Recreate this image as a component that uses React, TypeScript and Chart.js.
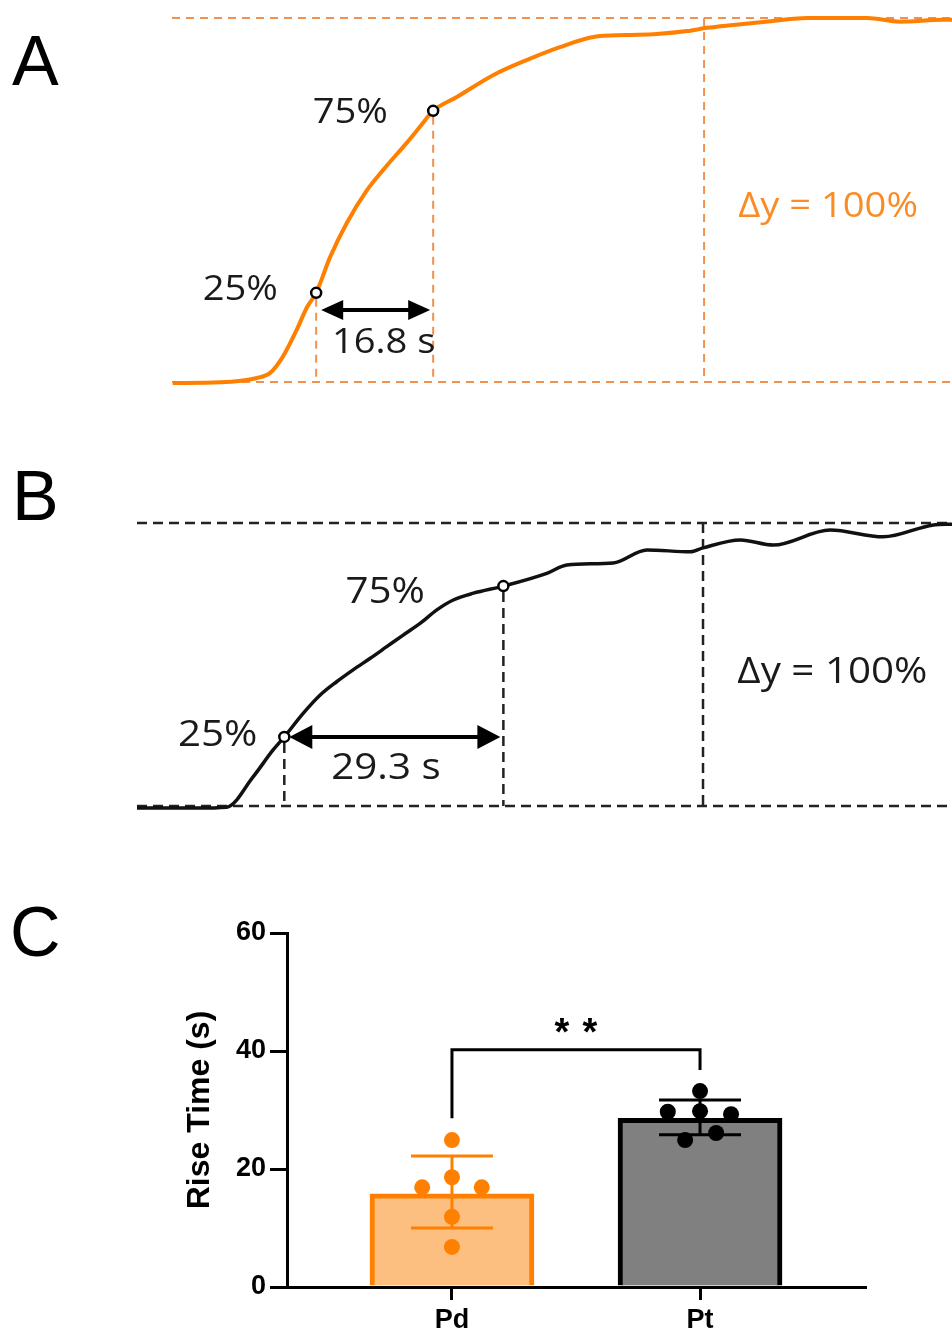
import React, { useEffect, useRef } from 'react';
import { Chart, registerables } from 'chart.js';
Chart.register(...registerables);

// ---------- Panel A (Pd trace): time (s) vs normalised rise (%) ----------
const traceATime = [0.1, 6.9, 12.2, 14.1, 15.9, 17.9, 19.4, 20.7, 22.7, 25.1, 28.0, 30.3, 33.7, 35.6, 37.5, 40.9, 46.1, 51.0, 55.7, 60.5, 65.3, 69.6, 74.0, 76.8, 80.6, 86.3, 91.2, 99.8, 104.5, 110.7, 112];
const traceAValue = [-0.3, -0.1, 1.1, 2.5, 6.9, 14.3, 20.6, 24.5, 34.3, 43.7, 52.7, 58.2, 65.7, 70.1, 74.5, 78.3, 84.3, 88.5, 92.0, 94.8, 95.3, 95.6, 96.4, 97.3, 98.1, 99.2, 100, 100, 99.0, 99.5, 99.5];
const markerATime = [20.7, 37.5];
const markerAValue = [24.5, 74.5];
const plateauATime = 76.4;
const riseALabel = '16.8 s';

// ---------- Panel B (Pt trace) ----------
const traceBTime = [0, 8.0, 12.0, 15.5, 18.2, 19.7, 22.25, 24.5, 26.7, 28.9, 31.2, 33.4, 35.6, 37.9, 40.1, 42.3, 45.0, 49.0, 54.9, 57.5, 63.7, 68.2, 74.0, 75.7, 80.7, 85.1, 92.7, 99.8, 106.5, 109];
const traceBValue = [-0.7, -0.7, -0.4, 10.2, 19.8, 24.4, 32.8, 39.2, 43.9, 48.1, 52.2, 56.3, 60.4, 64.6, 69.3, 72.8, 75.2, 77.7, 82.3, 85.2, 85.9, 90.5, 89.8, 91.2, 94.0, 92.2, 97.5, 95.1, 99.3, 99.6];
const markerBTime = [19.7, 49.0];
const markerBValue = [24.4, 77.7];
const plateauBTime = 75.7;
const riseBLabel = '29.3 s';

const markerLabels = ['25%', '75%'];
const deltaLabel = 'Δy = 100%';

// ---------- Panel C (bar chart) ----------
const groups = ['Pd', 'Pt'];
const groupMeans = [15.8, 28.6];
const sdUpper = [22.2, 31.7];
const sdLower = [10.0, 25.8];
const pdValues = [24.9, 18.6, 16.9, 16.9, 11.9, 6.8];
const pdJitter = [0, 0, -0.12, 0.12, 0, 0];
const ptValues = [33.2, 29.7, 29.8, 29.3, 24.9, 26.1];
const ptJitter = [0, -0.13, 0, 0.125, -0.06, 0.065];
const yTicks = [0, 20, 40, 60];
const yTitle = 'Rise Time (s)';
const sigLabel = '*';
const bracketY = { left: 28.6, top: 40.2, right: 36.8, stars: 44.8 };

const TXT_FONT = '"Open Sans", "Noto Sans", sans-serif';
const AX_FONT = '"Liberation Sans", Arial, sans-serif';
const TEXT_STRETCH = 1.09;

type TracePanel = {
  letter: string;
  letterBaseline: number;
  time: number[];
  value: number[];
  color: string;
  lineWidth: number;
  guideColor: string;
  guideWidth: number;
  dash: number[];
  xMax: number;
  padding: { left: number; right: number; top: number; bottom: number };
  markerTime: number[];
  markerValue: number[];
  plateauTime: number;
  riseLabel: string;
  arrowY: number;
  arrowHead: [number, number];
  labelPos: { x: number; y: number }[];
  risePos: { x: number; y: number };
  deltaPos: { x: number; y: number };
  deltaColor: string;
  textColor: string;
  fontSize: number;
};

const panelA: TracePanel = {
  letter: 'A',
  letterBaseline: 85,
  time: traceATime,
  value: traceAValue,
  color: '#FF8000',
  lineWidth: 4,
  guideColor: '#F2914F',
  guideWidth: 2,
  dash: [8, 6],
  xMax: 112,
  padding: { left: 172, right: 0, top: 18, bottom: 38 },
  markerTime: markerATime,
  markerValue: markerAValue,
  plateauTime: plateauATime,
  riseLabel: riseALabel,
  arrowY: 19.8,
  arrowHead: [22, 10],
  labelPos: [{ x: 15.2, y: 26.1 }, { x: 31.0, y: 74.5 }],
  risePos: { x: 30.4, y: 11.5 },
  deltaPos: { x: 94.2, y: 48.9 },
  deltaColor: '#FA8C28',
  textColor: '#1a1a1a',
  fontSize: 35,
};

const panelB: TracePanel = {
  letter: 'B',
  letterBaseline: 100,
  time: traceBTime,
  value: traceBValue,
  color: '#111111',
  lineWidth: 3.5,
  guideColor: '#222222',
  guideWidth: 2.5,
  dash: [10, 6],
  xMax: 109,
  padding: { left: 137, right: 0, top: 103, bottom: 44 },
  markerTime: markerBTime,
  markerValue: markerBValue,
  plateauTime: plateauBTime,
  riseLabel: riseBLabel,
  arrowY: 24.4,
  arrowHead: [23, 12],
  labelPos: [{ x: 16.1, y: 25.8 }, { x: 38.5, y: 76.3 }],
  risePos: { x: 33.3, y: 14.1 },
  deltaPos: { x: 93.0, y: 48.1 },
  deltaColor: '#1a1a1a',
  textColor: '#1a1a1a',
  fontSize: 37,
};

function stretchedText(ctx: CanvasRenderingContext2D, text: string, x: number, y: number) {
  ctx.save();
  ctx.translate(x, y);
  ctx.scale(TEXT_STRETCH, 1);
  ctx.fillText(text, 0, 0);
  ctx.restore();
}

function tracePlugin(p: TracePanel) {
  const line = (ctx: CanvasRenderingContext2D, x1: number, y1: number, x2: number, y2: number) => {
    ctx.beginPath();
    ctx.moveTo(x1, y1);
    ctx.lineTo(x2, y2);
    ctx.stroke();
  };
  return {
    id: 'traceAnnot' + p.letter,
    beforeDatasetsDraw(chart: any) {
      const { ctx, chartArea: ca, scales } = chart;
      const x = scales.x, y = scales.y;
      ctx.save();
      ctx.strokeStyle = p.guideColor;
      ctx.lineWidth = p.guideWidth;
      ctx.setLineDash(p.dash);
      const y0 = y.getPixelForValue(0);
      const y100 = y.getPixelForValue(100);
      line(ctx, ca.left, y100, ca.right, y100);
      line(ctx, ca.left, y0, ca.right, y0);
      p.markerTime.forEach((t, i) => {
        const px = x.getPixelForValue(t);
        line(ctx, px, y.getPixelForValue(p.markerValue[i]) + 6, px, y0);
      });
      const pp = x.getPixelForValue(p.plateauTime);
      line(ctx, pp, y100, pp, y0);
      ctx.restore();
    },
    afterDatasetsDraw(chart: any) {
      const { ctx, scales } = chart;
      const x = scales.x, y = scales.y;
      ctx.save();
      ctx.setLineDash([]);
      // arrow
      const ay = y.getPixelForValue(p.arrowY);
      const x1 = x.getPixelForValue(p.markerTime[0]) + 5;
      const x2 = x.getPixelForValue(p.markerTime[1]) - 3;
      const [L, H] = p.arrowHead;
      ctx.strokeStyle = '#000';
      ctx.fillStyle = '#000';
      ctx.lineWidth = 4;
      line(ctx, x1 + L - 4, ay, x2 - L + 4, ay);
      ctx.beginPath();
      ctx.moveTo(x1, ay);
      ctx.lineTo(x1 + L, ay - H);
      ctx.lineTo(x1 + L, ay + H);
      ctx.closePath();
      ctx.fill();
      ctx.beginPath();
      ctx.moveTo(x2, ay);
      ctx.lineTo(x2 - L, ay - H);
      ctx.lineTo(x2 - L, ay + H);
      ctx.closePath();
      ctx.fill();
      // markers
      p.markerTime.forEach((t, i) => {
        ctx.beginPath();
        ctx.arc(x.getPixelForValue(t), y.getPixelForValue(p.markerValue[i]), 5, 0, Math.PI * 2);
        ctx.fillStyle = '#fff';
        ctx.fill();
        ctx.lineWidth = 2.5;
        ctx.strokeStyle = '#000';
        ctx.stroke();
      });
      // labels
      const fs = p.fontSize;
      ctx.font = `${fs}px ${TXT_FONT}`;
      ctx.textBaseline = 'alphabetic';
      ctx.fillStyle = p.textColor;
      ctx.textAlign = 'right';
      markerLabels.forEach((lab, i) => {
        stretchedText(ctx, lab, x.getPixelForValue(p.labelPos[i].x), y.getPixelForValue(p.labelPos[i].y) + fs * 0.36);
      });
      ctx.textAlign = 'center';
      stretchedText(ctx, p.riseLabel, x.getPixelForValue(p.risePos.x), y.getPixelForValue(p.risePos.y) + fs * 0.36);
      ctx.fillStyle = p.deltaColor;
      stretchedText(ctx, deltaLabel, x.getPixelForValue(p.deltaPos.x), y.getPixelForValue(p.deltaPos.y) + fs * 0.36);
      // panel letter
      ctx.fillStyle = '#000';
      ctx.textAlign = 'left';
      ctx.font = `70px ${AX_FONT}`;
      ctx.fillText(p.letter, 12, p.letterBaseline);
      ctx.restore();
    },
  };
}

function traceConfig(p: TracePanel): any {
  return {
    type: 'line',
    data: {
      datasets: [
        {
          data: p.time.map((t, i) => ({ x: t, y: p.value[i] })),
          borderColor: p.color,
          borderWidth: p.lineWidth,
          pointRadius: 0,
          cubicInterpolationMode: 'monotone',
          fill: false,
          clip: false,
        },
      ],
    },
    options: {
      animation: false,
      responsive: false,
      events: [],
      layout: { padding: p.padding },
      plugins: { legend: { display: false }, tooltip: { enabled: false } },
      scales: {
        x: { type: 'linear', display: false, min: 0, max: p.xMax },
        y: { type: 'linear', display: false, min: 0, max: 100 },
      },
    },
    plugins: [tracePlugin(p)],
  };
}

const groupFill = ['#FDBF7F', '#808080'];
const groupStroke = ['#FF8000', '#000000'];

const barPlugin = {
  id: 'barAnnot',
  afterDatasetDraw(chart: any, args: any) {
    if (args.index !== 0) return;
    const { ctx, scales } = chart;
    const x = scales.x, y = scales.y;
    ctx.save();
    ctx.lineWidth = 3;
    groups.forEach((_, i) => {
      const cx = x.getPixelForValue(i + 1);
      const yu = y.getPixelForValue(sdUpper[i]);
      const yl = y.getPixelForValue(sdLower[i]);
      ctx.strokeStyle = groupStroke[i];
      ctx.beginPath();
      ctx.moveTo(cx, yu);
      ctx.lineTo(cx, yl);
      ctx.moveTo(cx - 41, yu);
      ctx.lineTo(cx + 41, yu);
      ctx.moveTo(cx - 41, yl);
      ctx.lineTo(cx + 41, yl);
      ctx.stroke();
    });
    ctx.restore();
  },
  afterDatasetsDraw(chart: any) {
    const { ctx, scales } = chart;
    const x = scales.x, y = scales.y;
    ctx.save();
    ctx.strokeStyle = '#000';
    ctx.lineWidth = 3;
    const xl = x.getPixelForValue(1), xr = x.getPixelForValue(2);
    ctx.beginPath();
    ctx.moveTo(xl, y.getPixelForValue(bracketY.left));
    ctx.lineTo(xl, y.getPixelForValue(bracketY.top));
    ctx.lineTo(xr, y.getPixelForValue(bracketY.top));
    ctx.lineTo(xr, y.getPixelForValue(bracketY.right));
    ctx.stroke();
    ctx.fillStyle = '#000';
    ctx.font = `bold 38px ${AX_FONT}`;
    ctx.textAlign = 'center';
    ctx.textBaseline = 'alphabetic';
    const sx = x.getPixelForValue(1.5);
    const sy = y.getPixelForValue(bracketY.stars) + 38 * 0.58;
    ctx.fillText(sigLabel, sx - 14, sy);
    ctx.fillText(sigLabel, sx + 14, sy);
    ctx.font = `70px ${AX_FONT}`;
    ctx.textAlign = 'left';
    ctx.fillText('C', 10, 106);
    ctx.restore();
  },
};

function barConfig(): any {
  return {
    type: 'bar',
    data: {
      datasets: [
        {
          type: 'bar',
          data: groups.map((g, i) => ({ x: i + 1, y: groupMeans[i] })),
          backgroundColor: groupFill,
          borderColor: groupStroke,
          borderWidth: 5,
          barThickness: 164,
          order: 3,
        },
        {
          type: 'scatter',
          data: pdValues.map((v, i) => ({ x: 1 + pdJitter[i], y: v })),
          pointRadius: 8,
          pointBorderWidth: 0,
          pointBackgroundColor: groupStroke[0],
          backgroundColor: groupStroke[0],
          order: 1,
        },
        {
          type: 'scatter',
          data: ptValues.map((v, i) => ({ x: 2 + ptJitter[i], y: v })),
          pointRadius: 8,
          pointBorderWidth: 0,
          pointBackgroundColor: groupStroke[1],
          backgroundColor: groupStroke[1],
          order: 2,
        },
      ],
    },
    options: {
      animation: false,
      responsive: false,
      events: [],
      layout: { padding: { left: 177, right: 87, top: 83, bottom: 0 } },
      plugins: { legend: { display: false }, tooltip: { enabled: false } },
      scales: {
        x: {
          type: 'linear',
          min: 0.335,
          max: 2.665,
          bounds: 'data',
          offset: false,
          afterBuildTicks: (s: any) => {
            s.ticks = groups.map((_, i) => ({ value: i + 1 }));
          },
          afterFit: (s: any) => {
            s.height = 46;
          },
          ticks: {
            callback: (v: number) => groups[Math.round(v) - 1],
            font: { family: AX_FONT, size: 27, weight: 'bold' },
            color: '#000',
            padding: 4,
            maxRotation: 0,
            autoSkip: false,
          },
          grid: { display: true, offset: false, drawOnChartArea: false, drawTicks: true, tickLength: 13, tickWidth: 3, tickColor: '#000', lineWidth: 3, color: '#000' },
          border: { display: true, width: 3, color: '#000' },
        },
        y: {
          type: 'linear',
          min: 0,
          max: 60,
          afterBuildTicks: (s: any) => {
            s.ticks = yTicks.map((v) => ({ value: v }));
          },
          afterFit: (s: any) => {
            s.width = 110;
          },
          ticks: {
            font: { family: AX_FONT, size: 27, weight: 'bold' },
            color: '#000',
            padding: 4,
          },
          title: {
            display: true,
            text: yTitle,
            font: { family: AX_FONT, size: 32, weight: 'bold' },
            color: '#000',
          },
          grid: { display: true, offset: false, drawOnChartArea: false, drawTicks: true, tickLength: 17, tickWidth: 3, tickColor: '#000', lineWidth: 3, color: '#000' },
          border: { display: true, width: 3, color: '#000' },
        },
      },
    },
    plugins: [barPlugin],
  };
}

export default function App() {
  const refA = useRef<HTMLCanvasElement>(null);
  const refB = useRef<HTMLCanvasElement>(null);
  const refC = useRef<HTMLCanvasElement>(null);
  useEffect(() => {
    const charts = [
      new Chart(refA.current as HTMLCanvasElement, traceConfig(panelA)),
      new Chart(refB.current as HTMLCanvasElement, traceConfig(panelB)),
      new Chart(refC.current as HTMLCanvasElement, barConfig()),
    ];
    return () => charts.forEach((c) => c.destroy());
  }, []);
  return (
    <div style={{ position: 'absolute', left: 0, top: 0, width: 952, height: 1333, background: '#fff', overflow: 'hidden' }}>
      <canvas ref={refA} width={952} height={420} style={{ position: 'absolute', left: 0, top: 0 }} />
      <canvas ref={refB} width={952} height={430} style={{ position: 'absolute', left: 0, top: 420 }} />
      <canvas ref={refC} width={952} height={483} style={{ position: 'absolute', left: 0, top: 850 }} />
    </div>
  );
}
